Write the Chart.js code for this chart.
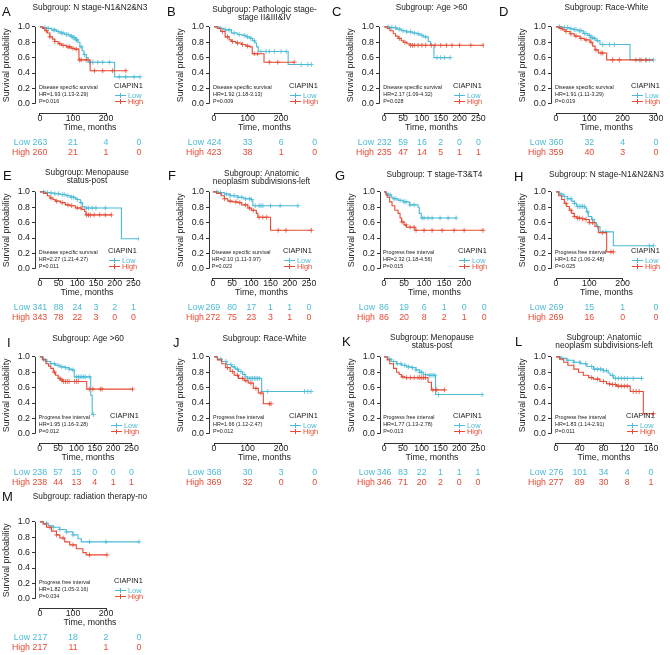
<!DOCTYPE html>
<html>
<head>
<meta charset="utf-8">
<script src="https://cdn.jsdelivr.net/npm/chart.js@4.4.0/dist/chart.umd.min.js"></script>
<style>
  html, body { margin: 0; padding: 0; background: #fff; }
  #wrap { position: relative; width: 670px; height: 655px; overflow: hidden; }
  #wrap canvas { position: absolute; }
</style>
</head>
<body>
<div id="wrap"></div>
<script>
const FONT = '"Liberation Sans", Arial, Helvetica, sans-serif';
const BLUE = '#4DBBD5';
const RED = '#E64B35';
const INK = '#222';

// ---- data: step points [time, survival], censor times, risk tables ----
const A_low = [[0,1],[10,0.99],[20,0.98],[35,0.96],[50,0.94],[60,0.92],[75,0.9],[90,0.88],[100,0.86],[108,0.83],[115,0.8],[121,0.74],[128,0.69],[133,0.64],[140,0.6],[146,0.54],[226,0.35],[303,0.35]];
const A_high = [[0,1],[8,0.98],[15,0.95],[22,0.92],[30,0.87],[38,0.84],[45,0.81],[55,0.78],[65,0.76],[80,0.74],[95,0.72],[105,0.71],[118,0.57],[152,0.43],[260,0.43]];
const A_lowCens = [15,25,40,45,55,65,70,80,85,95,100,105,110,112,125,135,150,160,175,190,210,240,260,285,303];
const A_highCens = [20,30,45,60,70,85,90,100,110,120,125,140,165,190,220,260];

const B_low = [[0,1],[15,0.98],[30,0.96],[52,0.92],[70,0.9],[82,0.89],[95,0.87],[107,0.85],[115,0.82],[122,0.79],[127,0.74],[132,0.68],[221,0.51],[290,0.51]];
const B_high = [[0,1],[10,0.98],[20,0.94],[33,0.87],[45,0.83],[52,0.81],[65,0.79],[82,0.77],[95,0.75],[107,0.74],[114,0.65],[149,0.54],[239,0.54]];
const B_lowCens = [20,35,45,60,75,90,100,110,120,140,155,165,180,200,215,260,280,290];
const B_highCens = [25,40,55,70,85,100,120,130,165,190,239];

const C_low = [[0,1],[15,0.99],[33,0.97],[45,0.95],[59,0.935],[75,0.92],[86,0.91],[95,0.89],[104,0.87],[117,0.81],[123,0.76],[132,0.6],[175,0.6]];
const C_high = [[0,1],[8,0.98],[15,0.95],[24,0.91],[30,0.88],[37,0.85],[45,0.82],[51,0.8],[60,0.78],[68,0.76],[263,0.76]];
const C_lowCens = [10,20,30,40,50,60,70,80,90,100,110,140,150,160,175];
const C_highCens = [40,55,70,75,80,90,100,110,125,135,150,165,180,200,230,263];

const D_low = [[0,1],[20,0.99],[40,0.975],[52,0.965],[65,0.95],[82,0.914],[95,0.89],[105,0.86],[112,0.85],[120,0.82],[132,0.77],[222,0.57],[292,0.57]];
const D_high = [[0,1],[10,0.98],[20,0.96],[30,0.94],[42,0.91],[55,0.88],[72,0.85],[85,0.83],[102,0.8],[110,0.75],[117,0.7],[127,0.66],[152,0.57],[292,0.57]];
const D_lowCens = [10,25,35,45,55,60,70,75,85,90,100,105,110,115,125,140,160,175,250,270,280,292];
const D_highCens = [15,30,45,60,75,90,105,120,135,140,170,190,240,255,270];

const E_low = [[0,1],[15,0.99],[27,0.985],[40,0.975],[55,0.965],[70,0.95],[82,0.93],[95,0.91],[100,0.9],[108,0.86],[114,0.81],[120,0.79],[218,0.39],[265,0.39]];
const E_high = [[0,1],[10,0.98],[20,0.95],[27,0.92],[35,0.9],[41,0.88],[55,0.86],[68,0.83],[80,0.82],[95,0.79],[112,0.77],[120,0.745],[123,0.7],[191,0.7]];
const E_lowCens = [10,20,30,40,50,60,65,75,85,90,100,110,125,130,140,150,175,265];
const E_highCens = [30,45,60,75,85,100,110,125,130,135,145,160,175,191];

const F_low = [[0,1],[15,0.99],[30,0.97],[45,0.95],[65,0.93],[80,0.91],[100,0.9],[104,0.82],[221,0.82]];
const F_high = [[0,1],[10,0.98],[22,0.95],[30,0.91],[39,0.88],[50,0.87],[65,0.86],[75,0.83],[91,0.79],[100,0.76],[113,0.72],[117,0.67],[150,0.5],[256,0.5]];
const F_lowCens = [10,20,35,45,55,65,75,85,95,100,110,120,125,130,150,175,221];
const F_highCens = [30,45,60,70,85,95,105,120,130,140,170,190,256];

const G_low = [[0,1],[5,0.98],[10,0.96],[18,0.93],[23,0.91],[35,0.89],[48,0.87],[64,0.83],[85,0.8],[88,0.72],[93,0.66],[180,0.66]];
const G_high = [[0,1],[5,0.96],[8,0.93],[14,0.87],[20,0.82],[27,0.76],[35,0.72],[40,0.66],[44,0.61],[50,0.57],[56,0.54],[77,0.5],[247,0.5]];
const G_lowCens = [10,15,25,30,40,50,55,65,75,95,100,110,120,140,160,180];
const G_highCens = [45,55,65,75,80,100,120,145,175,200,247];

const H_low = [[0,1],[10,0.97],[22,0.94],[35,0.91],[47,0.88],[55,0.85],[62,0.81],[87,0.79],[92,0.74],[97,0.68],[107,0.64],[115,0.6],[122,0.55],[132,0.48],[172,0.3],[292,0.3]];
const H_high = [[0,1],[8,0.95],[17,0.9],[25,0.85],[32,0.81],[40,0.76],[47,0.72],[55,0.68],[62,0.66],[75,0.65],[87,0.64],[100,0.6],[117,0.55],[127,0.47],[152,0.22],[172,0.22]];
const H_lowCens = [15,25,35,45,55,65,70,75,80,85,95,110,125,150,280,292];
const H_highCens = [30,45,55,65,70,80,90,100,110,140,165,172];

const I_low = [[0,1],[8,0.97],[17,0.94],[30,0.91],[43,0.89],[55,0.87],[69,0.86],[80,0.84],[87,0.83],[94,0.74],[139,0.5],[143,0.25],[146,0.25]];
const I_high = [[0,1],[8,0.96],[17,0.91],[24,0.88],[30,0.85],[37,0.8],[43,0.76],[50,0.72],[56,0.7],[62,0.68],[128,0.58],[253,0.58]];
const I_lowCens = [10,20,30,40,50,60,70,80,90,100,105,110,115,120,125,135,146];
const I_highCens = [40,55,60,65,70,75,80,95,100,105,135,145,165,170,253];

const J_low = [[0,1],[10,0.97],[23,0.94],[38,0.9],[53,0.87],[63,0.84],[73,0.81],[85,0.77],[93,0.74],[100,0.72],[142,0.55],[289,0.55]];
const J_high = [[0,1],[10,0.96],[23,0.91],[35,0.86],[48,0.81],[60,0.76],[73,0.72],[90,0.69],[102,0.66],[117,0.59],[132,0.53],[147,0.39],[170,0.39]];
const J_lowCens = [20,35,50,60,70,80,90,100,105,110,115,120,125,130,135,160,270,280,289];
const J_highCens = [40,55,70,85,95,110,125,140,165,170];

const K_low = [[0,1],[10,0.97],[20,0.94],[33,0.91],[46,0.89],[60,0.87],[73,0.86],[85,0.83],[95,0.8],[104,0.77],[115,0.76],[137,0.51],[261,0.51]];
const K_high = [[0,1],[8,0.96],[15,0.91],[25,0.85],[33,0.8],[40,0.77],[46,0.74],[55,0.73],[117,0.67],[126,0.57],[161,0.57]];
const K_lowCens = [15,25,35,45,55,65,75,85,95,100,110,120,125,130,135,145,261];
const K_highCens = [50,60,70,80,90,95,100,105,110,130,140,161];

const L_low = [[0,1],[8,0.98],[18,0.956],[30,0.93],[41,0.91],[52,0.875],[63,0.84],[80,0.82],[88,0.79],[91,0.76],[97,0.72],[144,0.72]];
const L_high = [[0,1],[6,0.97],[13,0.93],[20,0.89],[30,0.84],[38,0.8],[46,0.76],[55,0.73],[63,0.71],[74,0.68],[85,0.65],[91,0.64],[102,0.62],[125,0.55],[147,0.26],[164,0.26]];
const L_lowCens = [10,20,30,40,50,60,65,70,75,80,85,95,100,105,110,115,120,130,144];
const L_highCens = [60,70,80,90,95,100,105,110,115,120,130,135,140,164];

const M_low = [[0,1],[10,0.98],[25,0.95],[40,0.93],[60,0.9],[80,0.87],[100,0.83],[115,0.78],[125,0.74],[300,0.74]];
const M_high = [[0,1],[10,0.97],[20,0.93],[35,0.88],[50,0.83],[60,0.79],[75,0.74],[90,0.7],[110,0.65],[130,0.6],[140,0.57],[203,0.57]];
const M_lowCens = [20,40,60,80,100,150,200,300];
const M_highCens = [30,50,70,100,150,203];

// x-axis tick labels and risk-table time points
const ticks100 = [0, 100, 200];
const ticks100b = [0, 100, 200, 300];
const ticks50 = [0, 50, 100, 150, 200, 250];
const ticks50b = [0, 50, 100, 150, 200];
const ticks40 = [0, 40, 80, 120, 160];
const risk100 = [0, 100, 200, 300];
const risk50 = [0, 50, 100, 150, 200, 250];
const risk40 = [0, 40, 80, 120, 160];

const A_riskLow = [263, 21, 4, 0],  A_riskHigh = [260, 21, 1, 0];
const B_riskLow = [424, 33, 6, 0],  B_riskHigh = [423, 38, 1, 0];
const C_riskLow = [232, 59, 16, 2, 0, 0], C_riskHigh = [235, 47, 14, 5, 1, 1];
const D_riskLow = [360, 32, 4, 0],  D_riskHigh = [359, 40, 3, 0];
const E_riskLow = [341, 88, 24, 3, 2, 1], E_riskHigh = [343, 78, 22, 3, 0, 0];
const F_riskLow = [269, 80, 17, 1, 1, 0], F_riskHigh = [272, 75, 23, 3, 1, 0];
const G_riskLow = [86, 19, 6, 1, 0, 0], G_riskHigh = [86, 20, 8, 2, 1, 0];
const H_riskLow = [269, 15, 1, 0],  H_riskHigh = [269, 16, 0, 0];
const I_riskLow = [238, 57, 15, 0, 0, 0], I_riskHigh = [238, 44, 13, 4, 1, 1];
const J_riskLow = [368, 30, 3, 0],  J_riskHigh = [369, 32, 0, 0];
const K_riskLow = [346, 83, 22, 1, 1, 1], K_riskHigh = [346, 71, 20, 2, 0, 0];
const L_riskLow = [276, 101, 34, 4, 0], L_riskHigh = [277, 89, 30, 8, 1];
const M_riskLow = [217, 18, 2, 0],  M_riskHigh = [217, 11, 1, 0];

const DSS = 'Disease specific survival';
const PFI = 'Progress free interval';

const panels = [
  { id: 'A', title: ['Subgroup: N stage-N1&N2&N3'], endpoint: DSS, hr: 'HR=1.93 (1.13-3.29)', p: 'P=0.016',
    low: A_low, high: A_high, lowCens: A_lowCens, highCens: A_highCens, ticks: ticks100, risk: risk100, riskLow: A_riskLow, riskHigh: A_riskHigh },
  { id: 'B', title: ['Subgroup: Pathologic stage-', 'stage II&III&IV'], endpoint: DSS, hr: 'HR=1.92 (1.18-3.13)', p: 'P=0.009',
    low: B_low, high: B_high, lowCens: B_lowCens, highCens: B_highCens, ticks: ticks100, risk: risk100, riskLow: B_riskLow, riskHigh: B_riskHigh },
  { id: 'C', title: ['Subgroup: Age >60'], endpoint: DSS, hr: 'HR=2.17 (1.09-4.32)', p: 'P=0.028',
    low: C_low, high: C_high, lowCens: C_lowCens, highCens: C_highCens, ticks: ticks50, risk: risk50, riskLow: C_riskLow, riskHigh: C_riskHigh },
  { id: 'D', title: ['Subgroup: Race-White'], endpoint: DSS, hr: 'HR=1.91 (1.11-3.29)', p: 'P=0.019',
    low: D_low, high: D_high, lowCens: D_lowCens, highCens: D_highCens, ticks: ticks100b, risk: risk100, riskLow: D_riskLow, riskHigh: D_riskHigh },
  { id: 'E', title: ['Subgroup: Menopause', 'status-post'], endpoint: DSS, hr: 'HR=2.27 (1.21-4.27)', p: 'P=0.011',
    low: E_low, high: E_high, lowCens: E_lowCens, highCens: E_highCens, ticks: ticks50, risk: risk50, riskLow: E_riskLow, riskHigh: E_riskHigh },
  { id: 'F', title: ['Subgroup: Anatomic', 'neoplasm subdivisions-left'], endpoint: DSS, hr: 'HR=2.10 (1.11-3.97)', p: 'P=0.023',
    low: F_low, high: F_high, lowCens: F_lowCens, highCens: F_highCens, ticks: ticks50, risk: risk50, riskLow: F_riskLow, riskHigh: F_riskHigh },
  { id: 'G', title: ['Subgroup: T stage-T3&T4'], endpoint: PFI, hr: 'HR=2.32 (1.18-4.56)', p: 'P=0.015',
    low: G_low, high: G_high, lowCens: G_lowCens, highCens: G_highCens, ticks: ticks50b, risk: risk50, riskLow: G_riskLow, riskHigh: G_riskHigh },
  { id: 'H', title: ['Subgroup: N stage-N1&N2&N3'], endpoint: PFI, hr: 'HR=1.62 (1.06-2.48)', p: 'P=0.025',
    low: H_low, high: H_high, lowCens: H_lowCens, highCens: H_highCens, ticks: ticks100, risk: risk100, riskLow: H_riskLow, riskHigh: H_riskHigh },
  { id: 'I', title: ['Subgroup: Age >60'], endpoint: PFI, hr: 'HR=1.95 (1.16-3.28)', p: 'P=0.012',
    low: I_low, high: I_high, lowCens: I_lowCens, highCens: I_highCens, ticks: ticks50, risk: risk50, riskLow: I_riskLow, riskHigh: I_riskHigh },
  { id: 'J', title: ['Subgroup: Race-White'], endpoint: PFI, hr: 'HR=1.66 (1.12-2.47)', p: 'P=0.012',
    low: J_low, high: J_high, lowCens: J_lowCens, highCens: J_highCens, ticks: ticks100, risk: risk100, riskLow: J_riskLow, riskHigh: J_riskHigh },
  { id: 'K', title: ['Subgroup: Menopause', 'status-post'], endpoint: PFI, hr: 'HR=1.77 (1.13-2.78)', p: 'P=0.013',
    low: K_low, high: K_high, lowCens: K_lowCens, highCens: K_highCens, ticks: ticks50, risk: risk50, riskLow: K_riskLow, riskHigh: K_riskHigh },
  { id: 'L', title: ['Subgroup: Anatomic', 'neoplasm subdivisions-left'], endpoint: PFI, hr: 'HR=1.83 (1.14-2.91)', p: 'P=0.011',
    low: L_low, high: L_high, lowCens: L_lowCens, highCens: L_highCens, ticks: ticks40, risk: risk40, riskLow: L_riskLow, riskHigh: L_riskHigh },
  { id: 'M', title: ['Subgroup: radiation therapy-no'], endpoint: PFI, hr: 'HR=1.82 (1.05-3.16)', p: 'P=0.034',
    low: M_low, high: M_high, lowCens: M_lowCens, highCens: M_highCens, ticks: ticks100, risk: risk100, riskLow: M_riskLow, riskHigh: M_riskHigh }
];

// page layout (absolute px): panel origin/width, plot left/right, x range, letter and title positions
const layout = {
  A: { ox: 0,   oy: 0,   w: 165, L: 35,  R: 145, xMin: -15,  xMax: 318, letter: [2, 12.5],   titleY: [7.5] },
  B: { ox: 165, oy: 0,   w: 165, L: 209, R: 320, xMin: -15,  xMax: 316, letter: [167, 12.5], titleY: [9.5, 17.5] },
  C: { ox: 330, oy: 0,   w: 167, L: 379, R: 484, xMin: -14,  xMax: 265, letter: [332, 12.5], titleY: [7.5] },
  D: { ox: 497, oy: 0,   w: 173, L: 551, R: 662, xMin: -15,  xMax: 318, letter: [499, 12.5], titleY: [7.5] },
  E: { ox: 0,   oy: 165, w: 165, L: 35,  R: 139, xMin: -13,  xMax: 265, letter: [3, 176],    titleY: [172.5, 180.5] },
  F: { ox: 165, oy: 165, w: 165, L: 209, R: 314, xMin: -10,  xMax: 263, letter: [168, 176],  titleY: [173.5, 181.5] },
  G: { ox: 330, oy: 165, w: 167, L: 380, R: 489, xMin: -10,  xMax: 262, letter: [335, 176],  titleY: [175] },
  H: { ox: 497, oy: 165, w: 173, L: 551, R: 662, xMin: -15,  xMax: 318, letter: [514, 177],  titleY: [175] },
  I: { ox: 0,   oy: 330, w: 165, L: 35,  R: 141, xMin: -13,  xMax: 276, letter: [7, 343],    titleY: [339] },
  J: { ox: 165, oy: 330, w: 165, L: 209, R: 320, xMin: -15,  xMax: 316, letter: [173, 343],  titleY: [339] },
  K: { ox: 330, oy: 330, w: 167, L: 380, R: 484, xMin: -11,  xMax: 266, letter: [342, 342],  titleY: [337.5, 345.5] },
  L: { ox: 497, oy: 330, w: 173, L: 551, R: 657, xMin: -8.4, xMax: 170, letter: [515, 342],  titleY: [337.5, 345.5] },
  M: { ox: 0,   oy: 495, w: 165, L: 35,  R: 145, xMin: -15,  xMax: 318, letter: [2, 497],    titleY: [497] }
};

// canvases start a little above each panel so top text is never clipped
const CANVAS_LIFT = 8, CANVAS_H = 168;
const PLOT_TOP = 23 + CANVAS_LIFT, PLOT_BOTTOM = 113 + CANVAS_LIFT;

Chart.defaults.font.family = FONT;

// survival level of a step curve at time t (to put censor marks on the curve)
function survAt(curve, t) {
  let s = 1;
  curve.forEach(([ti, si]) => { if (ti <= t) s = si; });
  return s;
}

function font(size) { return size + 'px ' + FONT; }

const kmDecor = {
  id: 'kmDecor',
  afterDraw(chart, args, o) {
    const { ctx, chartArea: a } = chart;
    const x = chart.scales.x, y = chart.scales.y;
    const p = o.panel, lay = o.lay;
    const top0 = lay.oy - CANVAS_LIFT;
    ctx.save();

    // base-R style axis lines, only from first to last tick
    ctx.strokeStyle = '#333';
    ctx.lineWidth = 1;
    ctx.beginPath();
    const ax = Math.round(a.left) + 0.5;
    ctx.moveTo(ax, y.getPixelForValue(0));
    ctx.lineTo(ax, y.getPixelForValue(1));
    const ay = Math.round(a.bottom) + 0.5;
    ctx.moveTo(x.getPixelForValue(p.ticks[0]), ay);
    ctx.lineTo(x.getPixelForValue(p.ticks[p.ticks.length - 1]), ay);
    ctx.stroke();

    ctx.fillStyle = '#111';
    // panel letter
    ctx.font = font(13);
    ctx.textAlign = 'left';
    ctx.textBaseline = 'middle';
    ctx.fillText(p.id, lay.letter[0] - lay.ox, lay.letter[1] - top0);

    // title
    ctx.fillStyle = INK;
    ctx.font = font(8.3);
    ctx.textAlign = 'center';
    const cx = (a.left + a.right) / 2;
    p.title.forEach((line, i) => ctx.fillText(line, cx, lay.titleY[i] - top0));

    // axis titles
    ctx.font = font(8.8);
    ctx.fillText('Time, months', cx, a.bottom + 15);
    ctx.save();
    ctx.translate(a.left - 28, (y.getPixelForValue(0) + y.getPixelForValue(1)) / 2);
    ctx.rotate(-Math.PI / 2);
    ctx.fillText('Survival probability', 0, 0);
    ctx.restore();

    // endpoint / HR / P text
    ctx.font = font(5.4);
    ctx.textAlign = 'left';
    const tx = x.getPixelForValue(0) - 1;
    ctx.fillText(p.endpoint, tx, y.getPixelForValue(0.215));
    ctx.fillText(p.hr, tx, y.getPixelForValue(0.12));
    ctx.fillText(p.p, tx, y.getPixelForValue(0.03));

    // legend
    const lx = a.right - 31;
    ctx.font = font(7.4);
    ctx.fillText('CIAPIN1', lx, y.getPixelForValue(0.235));
    [['Low', BLUE, 0.12], ['High', RED, 0.03]].forEach(([lab, col, v]) => {
      const ly = Math.round(y.getPixelForValue(v)) + 0.5;
      ctx.strokeStyle = col;
      ctx.lineWidth = 1;
      ctx.beginPath();
      ctx.moveTo(lx + 1, ly); ctx.lineTo(lx + 12, ly);
      ctx.moveTo(lx + 6.5, ly - 2.5); ctx.lineTo(lx + 6.5, ly + 2.5);
      ctx.stroke();
      ctx.fillStyle = col;
      ctx.fillText(lab, lx + 14, ly);
    });

    // number-at-risk table
    ctx.font = font(8.8);
    [[p.riskLow, 'Low', BLUE, 30], [p.riskHigh, 'High', RED, 40]].forEach(([vals, lab, col, dy]) => {
      const ry = a.bottom + dy;
      ctx.fillStyle = col;
      ctx.textAlign = 'right';
      ctx.fillText(lab, a.left - 5, ry);
      ctx.textAlign = 'center';
      vals.forEach((n, i) => ctx.fillText(String(n), x.getPixelForValue(p.risk[i]), ry));
    });
    ctx.restore();
  }
};

const wrap = document.getElementById('wrap');

panels.forEach(p => {
  const lay = layout[p.id];
  const cv = document.createElement('canvas');
  cv.width = lay.w;
  cv.height = CANVAS_H;
  cv.style.left = lay.ox + 'px';
  cv.style.top = (lay.oy - CANVAS_LIFT) + 'px';
  wrap.appendChild(cv);

  const curve = (pts) => pts.map(([t, s]) => ({ x: t, y: s }));
  const cens = (times, pts) => times.map(t => ({ x: t, y: survAt(pts, t) }));
  const lineDs = (pts, col) => ({ data: curve(pts), borderColor: col, borderWidth: 1.1, stepped: true, pointRadius: 0, fill: false });
  const censDs = (times, pts, col) => ({ data: cens(times, pts), showLine: false, borderColor: col, backgroundColor: col,
    pointStyle: 'cross', pointRadius: 2.4, pointBorderWidth: 0.8 });

  new Chart(cv, {
    type: 'line',
    data: {
      datasets: [
        lineDs(p.high, RED),
        censDs(p.highCens, p.high, RED),
        lineDs(p.low, BLUE),
        censDs(p.lowCens, p.low, BLUE)
      ]
    },
    options: {
      responsive: false,
      animation: false,
      events: [],
      layout: { padding: { top: PLOT_TOP, right: lay.ox + lay.w - lay.R, bottom: 0, left: 0 } },
      plugins: {
        legend: { display: false },
        tooltip: { enabled: false },
        kmDecor: { panel: p, lay: lay }
      },
      scales: {
        x: {
          type: 'linear',
          min: lay.xMin,
          max: lay.xMax,
          afterBuildTicks: s => { s.ticks = p.ticks.map(v => ({ value: v })); },
          afterFit: s => { s.height = CANVAS_H - PLOT_BOTTOM; },
          border: { display: false },
          grid: { drawOnChartArea: false, drawTicks: true, tickLength: 3, color: '#333' },
          ticks: { color: INK, font: { size: 8.8 }, padding: -3, maxRotation: 0, autoSkip: false }
        },
        y: {
          min: -0.12,
          max: 1.05,
          afterBuildTicks: s => { s.ticks = [0, 0.2, 0.4, 0.6, 0.8, 1].map(v => ({ value: v })); },
          afterFit: s => { s.width = lay.L - lay.ox; },
          border: { display: false },
          grid: { drawOnChartArea: false, drawTicks: true, tickLength: 3, color: '#333' },
          ticks: { color: INK, font: { size: 8.8 }, padding: 2, callback: v => v.toFixed(1) }
        }
      }
    },
    plugins: [kmDecor]
  });
});
</script>
</body>
</html>
